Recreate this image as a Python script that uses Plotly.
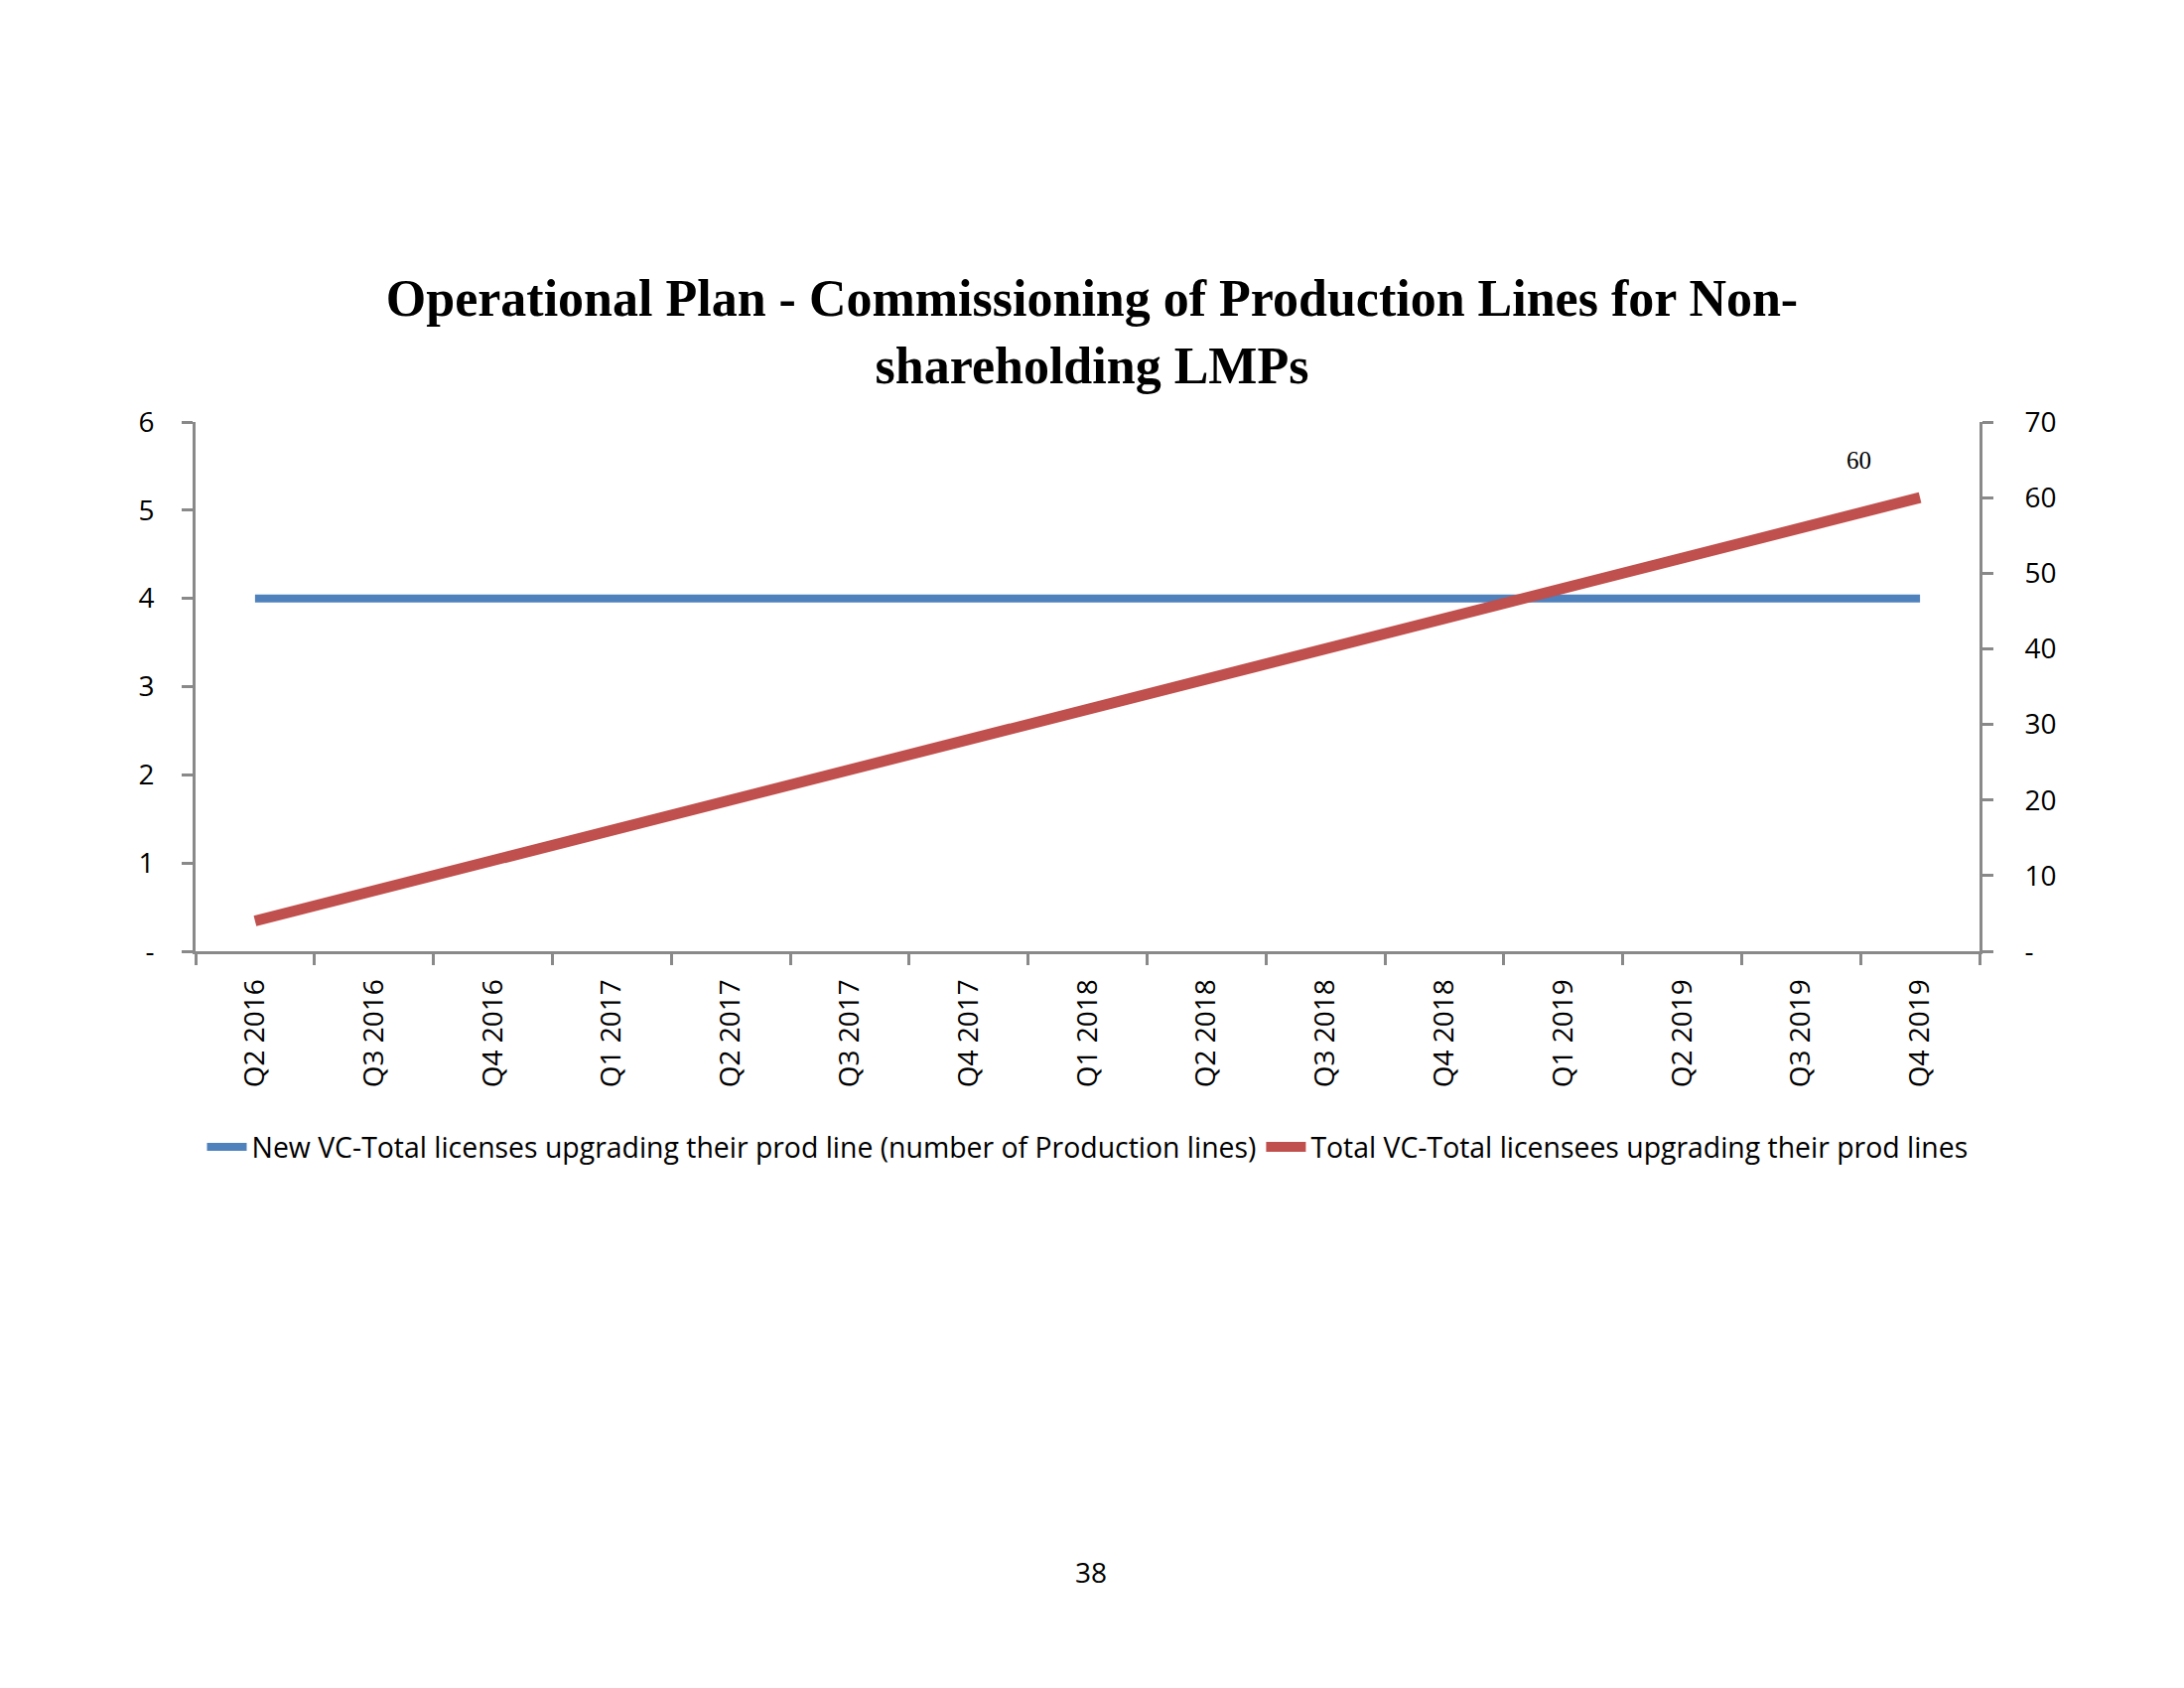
import plotly.graph_objects as go

categories = ["Q2 2016", "Q3 2016", "Q4 2016", "Q1 2017", "Q2 2017", "Q3 2017", "Q4 2017",
              "Q1 2018", "Q2 2018", "Q3 2018", "Q4 2018", "Q1 2019", "Q2 2019", "Q3 2019", "Q4 2019"]
new_lines = [4, 4, 4, 4, 4, 4, 4, 4, 4, 4, 4, 4, 4, 4, 4]
total_lines = [4, 8, 12, 16, 20, 24, 28, 32, 36, 40, 44, 48, 52, 56, 60]
series_names = ["New VC-Total licenses upgrading their prod line (number of Production lines)",
                "Total VC-Total licensees upgrading their prod lines"]
left_ticks = [0, 1, 2, 3, 4, 5, 6]
left_ticktext = ["-", "1", "2", "3", "4", "5", "6"]
right_ticks = [0, 10, 20, 30, 40, 50, 60, 70]
right_ticktext = ["-", "10", "20", "30", "40", "50", "60", "70"]
title_text = "Operational Plan - Commissioning of Production Lines for Non-<br>shareholding LMPs"
page_number = "38"

BLUE = "#4F81BD"
RED = "#C0504D"
AXIS = "#898989"
SANS = "Open Sans"

# plot area in page pixels (body has an 8px offset)
L, R, T, B = 197, 1994, 425, 958
OFF = 8
PH = B - T

fig = go.Figure()
fig.add_trace(go.Scatter(x=categories, y=new_lines, name=series_names[0], mode="lines",
                         line=dict(color=BLUE, width=8), yaxis="y"))
fig.add_trace(go.Scatter(x=categories, y=total_lines, name=series_names[1], mode="lines",
                         line=dict(color=RED, width=11), yaxis="y2"))

fig.add_annotation(x=categories[-1], y=total_lines[-1], xref="x", yref="y2",
                   text=str(total_lines[-1]), showarrow=False, xshift=-62, yshift=38,
                   font=dict(family="Liberation Serif", size=25, color="black"))

fig.add_annotation(x=(1099 - L) / (R - L), y=(B - 1583) / PH, xref="paper", yref="paper",
                   text=page_number, showarrow=False, yanchor="middle",
                   font=dict(family=SANS, size=28, color="black"))

axis_common = dict(showline=True, linecolor=AXIS, linewidth=3, ticks="outside",
                   tickcolor=AXIS, tickwidth=3, ticklen=11, showgrid=False, zeroline=False,
                   tickfont=dict(family=SANS, size=28, color="black"))

fig.update_layout(
    width=2200, height=1700,
    paper_bgcolor="white", plot_bgcolor="white",
    margin=dict(l=L - OFF, r=2200 - R + OFF, t=T - OFF, b=1700 - B + OFF),
    title=dict(text=title_text, x=(1100 - OFF) / 2200, xref="container", xanchor="center",
               y=1 - 310 / 1700, yanchor="middle",
               font=dict(family="Liberation Serif", size=52, color="black", weight="bold")),
    xaxis=dict(type="category", range=[-0.5, 14.5], tickson="boundaries", tickangle=-90,
               ticklabelstandoff=14, **axis_common),
    yaxis=dict(range=[0, 6], tickvals=left_ticks, ticktext=left_ticktext,
               ticklabelstandoff=22, **axis_common),
    yaxis2=dict(range=[0, 70], tickvals=right_ticks, ticktext=right_ticktext,
                overlaying="y", side="right", ticklabelstandoff=26, **axis_common),
    showlegend=True,
    legend=dict(orientation="h", x=0.5, xanchor="center", y=(B - 1155) / PH, yanchor="middle",
                font=dict(family=SANS, size=28.4, color="black"), itemwidth=40,
                tracegroupgap=0, bgcolor="rgba(0,0,0,0)"),
)

fig.write_html("out.html")
